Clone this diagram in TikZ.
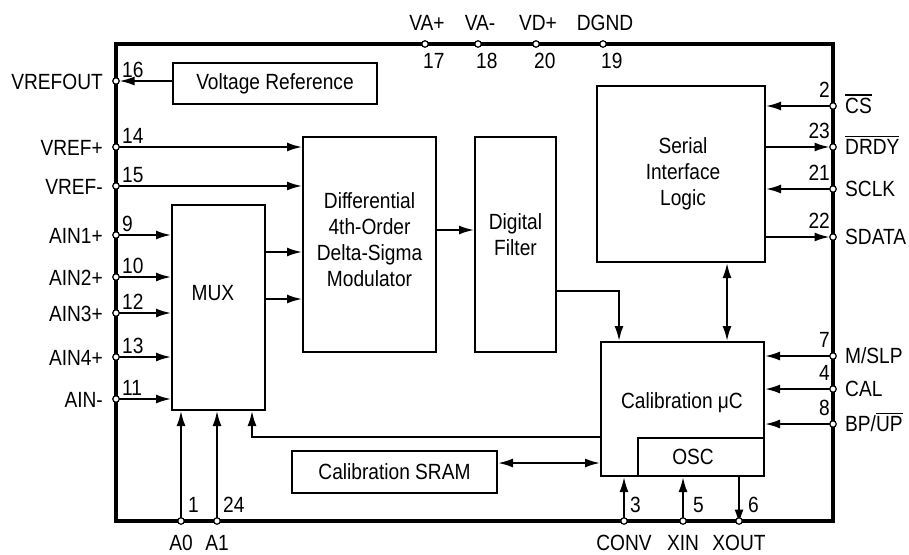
\documentclass[tikz,border=0pt]{standalone}
\usepackage{fontspec}
\setmainfont{Liberation Sans}[FakeStretch=0.87]
\usetikzlibrary{arrows.meta}
\newcommand\myovl[1]{\leavevmode\vbox{\hrule height 1.3pt \kern 2.5pt \hbox{#1}}}
\begin{document}
\begin{tikzpicture}[x=1pt,y=-1pt,
  every node/.style={font=\fontsize{22}{26}\selectfont},
  blk/.style={draw,line width=2pt,inner sep=0pt},
  chipbox/.style={draw,line width=3.5pt,inner sep=0pt},
  pinc/.style={circle,draw,fill=white,line width=1.2pt,minimum size=6.5pt,inner sep=0pt},
  txt/.style={align=center,inner sep=0pt},
  num/.style={inner sep=0pt},
  conn/.style={line width=2pt},
  arr/.style={conn,-{Latex[length=15pt,width=9pt]}},
  arrtwo/.style={conn,{Latex[length=15pt,width=9pt]}-{Latex[length=15pt,width=9pt]}}
]
\useasboundingbox (0,0) rectangle (909,554);
% chip outline
\node[chipbox,minimum width=717pt,minimum height=477pt] (chip) at (474.5,282.5) {};
% blocks
\node[blk,minimum width=204pt,minimum height=41pt] (vref) at (275,83.5) {};
\node[blk,minimum width=133pt,minimum height=215pt] (mod) at (369.5,244.5) {};
\node[blk,minimum width=81pt,minimum height=215pt] (filt) at (515.5,244.5) {};
\node[blk,minimum width=168pt,minimum height=176pt] (ser) at (681,174) {};
\node[blk,minimum width=93pt,minimum height=205pt] (mux) at (218.5,307.5) {};
\node[blk,minimum width=163pt,minimum height=134pt] (cal) at (682.5,409) {};
\node[blk,minimum width=126pt,minimum height=38pt] (osc) at (701,457) {};
\node[blk,minimum width=205pt,minimum height=42pt] (sram) at (394.5,472) {};
% block texts
\node[txt] (tvref) at (275,83.5) {Voltage Reference};
\node[txt] (tmod) at (369.5,240) {Differential\\4th-Order\\Delta-Sigma\\Modulator};
\node[txt] (tfilt) at (515.5,235) {Digital\\Filter};
\node[txt] (tser) at (683,174) {Serial\\Interface\\Logic};
\node[txt] (tmux) at (213,293) {MUX};
\node[txt] (tcal) at (682,403) {Calibration μC};
\node[txt] (tosc) at (693,457) {OSC};
\node[txt] (tsram) at (394.5,472) {Calibration SRAM};
% helper coordinates
\coordinate (m1) at (0,252);
\coordinate (m2) at (0,299);
\coordinate (mf) at (0,230);
\coordinate (yf) at (0,291);
\coordinate (xf) at (619,0);
\coordinate (xs) at (727,0);
\coordinate (yfb) at (0,437);
\coordinate (xfb) at (252,0);
\coordinate (ys) at (0,463);
% pins
\foreach \n/\y in {16/81,14/147,15/186,9/235,10/277,12/313,13/357,11/399}
  \coordinate (c\n) at (116,\y);
\foreach \n/\y in {2/106,23/147,21/189,22/237,7/356,4/389,8/424}
  \coordinate (c\n) at (833,\y);
\foreach \n/\x in {17/425,18/478,20/536,19/603}
  \coordinate (c\n) at (\x,44);
\foreach \n/\x in {1/181,24/217,3/624,5/683,6/739}
  \coordinate (c\n) at (\x,521);
% connectors
\draw[arr] (vref.west |- c16) -- ([xshift=3.5pt]c16);
\foreach \n in {14,15} \draw[arr] (c\n) -- (c\n -| mod.west);
\foreach \n in {9,10,12,13,11} \draw[arr] (c\n) -- (c\n -| mux.west);
\draw[arr] (mux.east |- m1) -- (mod.west |- m1);
\draw[arr] (mux.east |- m2) -- (mod.west |- m2);
\draw[arr] (mod.east |- mf) -- (filt.west |- mf);
\draw[arr] (filt.east |- yf) -| (cal.north -| xf);
\draw[arrtwo] (ser.south -| xs) -- (cal.north -| xs);
\draw[arr] (c2) -- (c2 -| ser.east);
\draw[arr] (ser.east |- c23) -- ([xshift=-3.5pt]c23);
\draw[arr] (c21) -- (c21 -| ser.east);
\draw[arr] (ser.east |- c22) -- ([xshift=-3.5pt]c22);
\foreach \n in {7,4,8} \draw[arr] (c\n) -- (c\n -| cal.east);
\foreach \n in {1,24} \draw[arr] (c\n) -- (c\n |- mux.south);
\draw[arr] (cal.west |- yfb) -| (mux.south -| xfb);
\draw[arrtwo] (sram.east |- ys) -- (cal.west |- ys);
\draw[arr] (c3) -- (c3 |- cal.south);
\draw[arr] (c5) -- (c5 |- osc.south);
\draw[arr] (c6 |- osc.south) -- ([yshift=-3.5pt]c6);
% pin circles
\foreach \n in {16,14,15,9,10,12,13,11,2,23,21,22,7,4,8,17,18,20,19,1,24,3,5,6}
  \node[pinc] (p\n) at (c\n) {};
% left pin numbers and labels
\foreach \n/\y/\l in {16/81/VREFOUT,14/147/VREF+,15/186/VREF-,9/235/AIN1+,10/277/AIN2+,12/313/AIN3+,13/357/AIN4+,11/399/AIN-}{
  \node[num,anchor=base west] (n\n) at (122,\y-4) {\n};
  \node[num,anchor=base east] (l\n) at (103,\y+8) {\l};
}
% right pin numbers and labels
\foreach \n/\y in {2/106,23/147,21/189,22/237,7/356,4/389,8/424}
  \node[num,anchor=base east] (n\n) at (830,\y-9) {\n};
\node[num,anchor=base west] (l2) at (845,113.5) {\myovl{CS}};
\node[num,anchor=base west] (l23) at (845,154.5) {\myovl{DRDY}};
\node[num,anchor=base west] (l21) at (845,196.5) {SCLK};
\node[num,anchor=base west] (l22) at (845,244.5) {SDATA};
\node[num,anchor=base west] (l7) at (845,363.5) {M/SLP};
\node[num,anchor=base west] (l4) at (845,396.5) {CAL};
\node[num,anchor=base west] (l8) at (845,431.5) {BP/\myovl{UP}};
% top pin numbers and labels
\foreach \n/\x/\l in {17/425/VA+,18/478/VA-,20/536/VD+,19/603/DGND}{
  \node[num,anchor=base west] (n\n) at (\x-2,68) {\n};
  \node[num,anchor=base] (l\n) at (\x+2,30) {\l};
}
% bottom pin numbers and labels
\foreach \n/\x/\d/\l in {1/181/7/A0,24/217/6/A1,3/624/6/CONV,5/683/10/XIN,6/739/9/XOUT}{
  \node[num,anchor=base west] (n\n) at (\x+\d,512) {\n};
  \node[num,anchor=base] (l\n) at (\x,550) {\l};
}
\end{tikzpicture}
\end{document}
